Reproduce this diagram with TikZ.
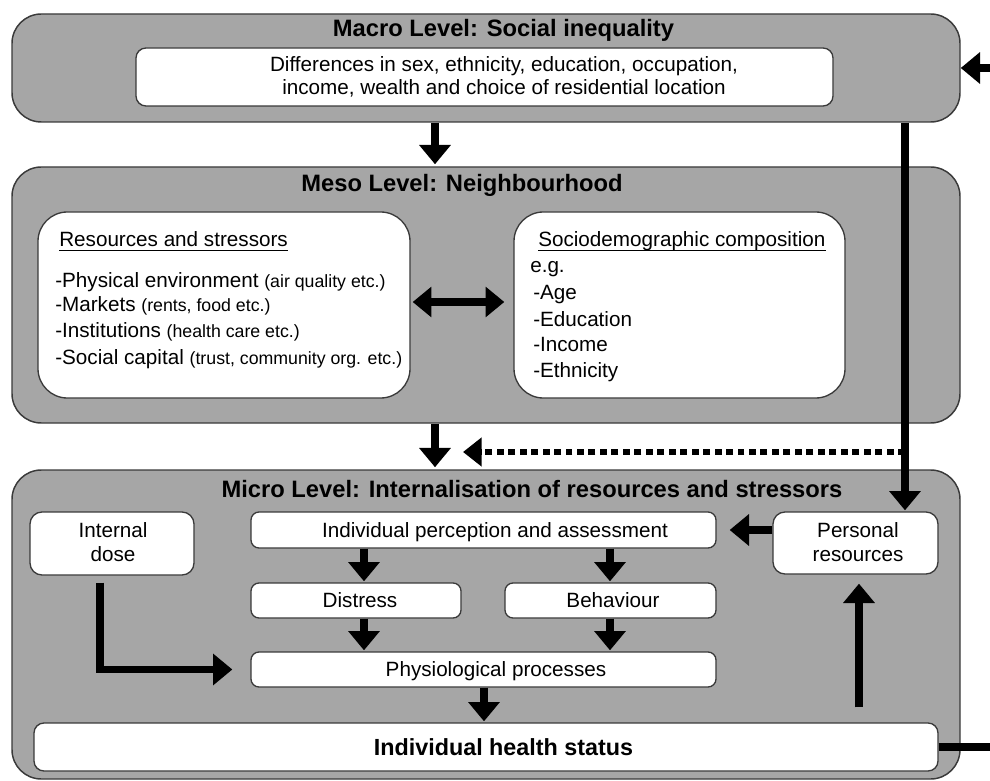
\documentclass[tikz,border=0pt]{standalone}
\usepackage{fontspec}
\setmainfont{Liberation Sans}
\usetikzlibrary{arrows.meta,fit}
\definecolor{panelgray}{HTML}{A6A6A6}
\definecolor{edgegray}{HTML}{3A3A3A}
\newcommand{\smalltxt}{\fontsize{13.3}{15}\selectfont}
\begin{document}
\begin{tikzpicture}[x=0.75pt,y=-0.75pt,
  panel/.style={inner sep=0pt, draw=edgegray, line width=1.1pt, fill=panelgray, rounded corners=22pt},
  bigbox/.style={inner sep=0pt, draw=edgegray, line width=1pt, fill=white, rounded corners=22pt},
  wbox/.style={inner sep=0pt, draw=edgegray, line width=1pt, fill=white, rounded corners=6pt},
  txt/.style={inner sep=0pt, anchor=base, font=\fontsize{15.5}{17.25}\selectfont},
  ltxt/.style={txt, anchor=base west},
  ttl/.style={inner sep=0pt, anchor=base, font=\bfseries\fontsize{17.8}{20}\selectfont},
  arr/.style={line width=5.6pt, -{Triangle[width=23pt,length=14.5pt]}},
  dblarr/.style={line width=5.6pt, {Triangle[width=22pt,length=14pt]}-{Triangle[width=22pt,length=14pt]}},
  dotarr/.style={line width=5.2pt, dash pattern=on 5.2pt off 3.4pt, -{Triangle[width=21pt,length=14pt]}},
  plain/.style={line width=5.6pt},
  uline/.style={line width=0.8pt}
]
\useasboundingbox (0,0) rectangle (990,781);

% ---------- Macro level ----------
\node[panel, fit={(12,14) (960,122)}] (macro) {};
\node[ttl] (macrot) at (503.5,37) {Macro Level: Social inequality};
\node[wbox, rounded corners=7.5pt, fit={(136,48) (833,106)}] (macroin) {};
\node[txt] (mi1) at (504,72) {Differences in sex, ethnicity, education, occupation,};
\node[txt] (mi2) at (504,95) {income, wealth and choice of residential location};

% ---------- Meso level ----------
\node[panel, fit={(12,167) (960,423)}] (meso) {};
\node[ttl] (mesot) at (462,192) {Meso Level: Neighbourhood};
\node[bigbox, fit={(38,212) (410,398)}] (res) {};
\node[bigbox, fit={(514,212) (845,398)}] (soc) {};

\node[ltxt] (reshead) at (59,247) {Resources and stressors};
\draw[uline] ([yshift=-2.5pt]reshead.base west) -- ([yshift=-2.5pt]reshead.base east);
\node[ltxt] (r1) at (55,287) {-Physical environment {\smalltxt (air quality etc.)}};
\node[ltxt] (r2) at (55,312) {-Markets {\smalltxt (rents, food etc.)}};
\node[ltxt] (r3) at (55,338) {-Institutions {\smalltxt (health care etc.)}};
\node[ltxt] (r4) at (55,364) {-Social capital {\smalltxt (trust, community org. etc.)}};

\node[ltxt] (sochead) at (538,247) {Sociodemographic composition};
\draw[uline] ([yshift=-2.5pt]sochead.base west) -- ([yshift=-2.5pt]sochead.base east);
\node[ltxt] (s0) at (530,273) {e.g.};
\node[ltxt] (s1) at (533,300) {-Age};
\node[ltxt] (s2) at (533,326) {-Education};
\node[ltxt] (s3) at (533,352) {-Income};
\node[ltxt] (s4) at (533,378) {-Ethnicity};

% ---------- Micro level ----------
\node[panel, fit={(12,470) (960,779)}] (micro) {};
\node[ttl] (microt) at (532,497) {Micro Level: Internalisation of resources and stressors};

\node[wbox, rounded corners=9pt, fit={(30,512) (194,575)}] (dose) {};
\node[txt] (dose1) at (113,537) {Internal};
\node[txt] (dose2) at (113,561) {dose};

\node[wbox, fit={(251,512) (716,548)}] (perc) {};
\node[txt] (perct) at (495,537) {Individual perception and assessment};

\node[wbox, rounded corners=9pt, fit={(773,512) (938,574)}] (pers) {};
\node[txt] (pers1) at (858,537) {Personal};
\node[txt] (pers2) at (858,561) {resources};

\node[wbox, fit={(251,583) (461,618)}] (dist) {};
\node[txt] (distt) at (360,607) {Distress};
\node[wbox, fit={(505,583) (716,618)}] (behav) {};
\node[txt] (behavt) at (613,607) {Behaviour};

\node[wbox, fit={(251,652) (716,687)}] (phys) {};
\node[txt] (physt) at (496,676) {Physiological processes};

\node[wbox, rounded corners=7.5pt, fit={(34,723) (938,771)}] (health) {};
\node[txt, font=\bfseries\fontsize{17.5}{20}\selectfont] (healtht) at (503.5,755) {Individual health status};

% ---------- Connectors ----------
\coordinate (xa) at (435,0);
\coordinate (xv) at (905,0);
\coordinate (xd) at (100,0);
\coordinate (x1) at (364,0);
\coordinate (x2) at (610,0);
\coordinate (xh) at (484,0);
\coordinate (xu) at (859,0);
\coordinate (ya) at (0,302);
\coordinate (rin) at (990,68);
\coordinate (rout) at (990,747);
\coordinate (dstart) at (905,452);
\coordinate (dend) at (463,452);

\draw[arr, shorten >=1.5pt] (macro.south -| xa) -- (meso.north -| xa);
\draw[arr, shorten >=1.5pt] (meso.south -| xa) -- (micro.north -| xa);
\draw[arr, shorten >=0.75pt] (macro.south -| xv) -- (pers.north -| xv);
\draw[dotarr] (dstart) -- (dend);
\draw[arr] (rin) -- (macro.east);
\draw[plain] (health.east |- rout) -- (rout);

\draw[dblarr, shorten <=1.5pt, shorten >=6.75pt] (res.east |- ya) -- (soc.west |- ya);

\draw[arr, shorten >=9.75pt] (pers.west |- perc.east) -- (perc.east);
\draw[arr, shorten >=0.75pt] (perc.south -| x1) -- (dist.north -| x1);
\draw[arr, shorten >=0.75pt] (perc.south -| x2) -- (behav.north -| x2);
\draw[arr, shorten >=0.75pt] (dist.south -| x1) -- (phys.north -| x1);
\draw[arr, shorten >=0.75pt] (behav.south -| x2) -- (phys.north -| x2);
\draw[arr, shorten >=0.75pt] (phys.south -| xh) -- (health.north -| xh);
\draw[arr, shorten <=5.25pt, shorten >=13.5pt] (dose.south -| xd) |- (phys.west);
\draw[arr, shorten <=11.25pt, shorten >=6.75pt] (health.north -| xu) -- (pers.south -| xu);
\end{tikzpicture}
\end{document}
